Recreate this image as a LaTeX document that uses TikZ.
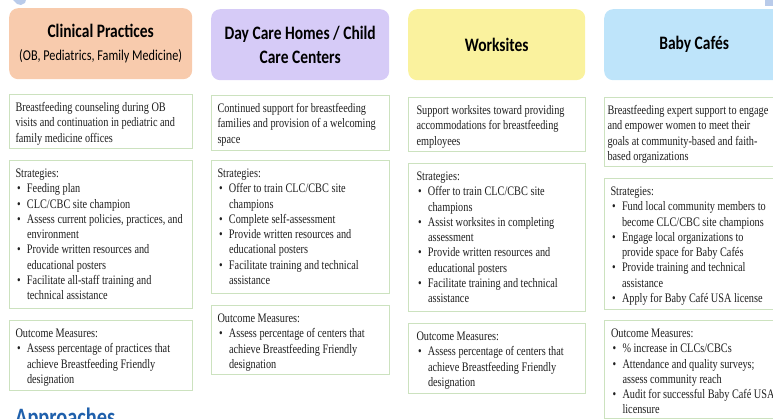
\documentclass[tikz,border=0pt]{standalone}
\usepackage{fontspec}
\setmainfont{Liberation Serif}[FakeStretch=0.79]
\newfontfamily\headfont{Carlito}[FakeStretch=0.815]
\usetikzlibrary{positioning}

\definecolor{cpfill}{HTML}{F8CBAD}
\definecolor{dcfill}{HTML}{D6CBF7}
\definecolor{wsfill}{HTML}{FAF29E}
\definecolor{bcfill}{HTML}{BEE4FA}
\definecolor{panelline}{HTML}{CCE2BF}
\definecolor{approachblue}{HTML}{1F60AC}
\definecolor{tabblue}{HTML}{B9CBEA}

\newcommand{\bul}{\makebox[11.5pt][l]{\hspace{1.5pt}\textbullet}}
\newcommand{\ind}{\hspace*{11.5pt}}
% width, height, left pad, lines
\newcommand{\paneltext}[4]{%
  \parbox[t][#2][t]{#1}{\raggedright\leftskip=#3\relax
    \fontsize{13}{15.3}\selectfont\rule{0pt}{17pt}#4}}

\tikzset{
  head/.style={
    anchor = north west,
    inner sep = 0pt,
    rounded corners = 9pt,
    align = center,
    font = \headfont\fontsize{19}{24}\selectfont\bfseries
  },
  panel/.style={
    anchor = north west,
    inner sep = 0pt,
    draw = panelline,
    line width = 1pt,
    fill = white,
    text = black!88
  }
}

\begin{document}
\begin{tikzpicture}[x=1pt,y=-1pt]
    \useasboundingbox (0,0) rectangle (773,419);
    \clip (0,0) rectangle (773,419);
    \def\xa{9}
    \def\xb{211}
    \def\xc{408}
    \def\xd{604}
    % bits of the slide frame
    \fill[tabblue] (13,0) -- (26,0) -- (25,3) -- (21,5) -- (17,4) -- cycle;
    \fill[tabblue] (765,0) rectangle (773,6);
    % column heads
    \node[head, fill=cpfill, minimum width=183pt, minimum height=71pt] (cp) at (\xa,8)
        {Clinical Practices\\[-1pt] {\headfont\fontsize{15}{18}\selectfont\mdseries (OB, Pediatrics, Family Medicine)}};
    \node[head, fill=dcfill, minimum width=178pt, minimum height=71pt] (dc) at (\xb,9)
        {Day Care Homes / Child\\ Care Centers};
    \node[head, fill=wsfill, minimum width=177pt, minimum height=71pt] (ws) at (\xc,9) {Worksites};
    \node[head, fill=bcfill, minimum width=180pt, minimum height=71pt] (bc) at (\xd,9) {Baby Cafés};
    % clinical practices
    \node[panel] (cp-desc) at (\xa,94) {\paneltext{183pt}{54pt}{6pt}{%
        Breastfeeding counseling during OB\\
        visits and continuation in pediatric and\\
        family medicine offices}};
    \node[panel] (cp-strat) at (\xa,160) {\paneltext{183pt}{148pt}{6pt}{%
        Strategies:\\
        \bul Feeding plan\\
        \bul CLC/CBC site champion\\
        \bul Assess current policies, practices, and\\
        \ind environment\\
        \bul Provide written resources and\\
        \ind educational posters\\
        \bul Facilitate all-staff training and\\
        \ind technical assistance}};
    \node[panel] (cp-out) at (\xa,320) {\paneltext{183pt}{70pt}{6pt}{%
        Outcome Measures:\\
        \bul Assess percentage of practices that\\
        \ind achieve Breastfeeding Friendly\\
        \ind designation}};
    % day care
    \node[panel] (dc-desc) at (\xb,95) {\paneltext{178pt}{55pt}{6pt}{%
        Continued support for breastfeeding\\
        families and provision of a welcoming\\
        space}};
    \node[panel] (dc-strat) at (\xb,160) {\paneltext{178pt}{133pt}{6pt}{%
        Strategies:\\
        \bul Offer to train CLC/CBC site\\
        \ind champions\\
        \bul Complete self-assessment\\
        \bul Provide written resources and\\
        \ind educational posters\\
        \bul Facilitate training and technical\\
        \ind assistance}};
    \node[panel] (dc-out) at (\xb,305) {\paneltext{178pt}{69pt}{6pt}{%
        Outcome Measures:\\
        \bul Assess percentage of centers that\\
        \ind achieve Breastfeeding Friendly\\
        \ind designation}};
    % worksites
    \node[panel] (ws-desc) at (\xc,97) {\paneltext{177pt}{54pt}{8pt}{%
        Support worksites toward providing\\
        accommodations for breastfeeding\\
        employees}};
    \node[panel] (ws-strat) at (\xc,163) {\paneltext{177pt}{148pt}{8pt}{%
        Strategies:\\
        \bul Offer to train CLC/CBC site\\
        \ind champions\\
        \bul Assist worksites in completing\\
        \ind assessment\\
        \bul Provide written resources and\\
        \ind educational posters\\
        \bul Facilitate training and technical\\
        \ind assistance}};
    \node[panel] (ws-out) at (\xc,323) {\paneltext{177pt}{70pt}{8pt}{%
        Outcome Measures:\\
        \bul Assess percentage of centers that\\
        \ind achieve Breastfeeding Friendly\\
        \ind designation}};
    % baby cafes
    \node[panel] (bc-desc) at (\xd,97) {\paneltext{180pt}{69pt}{3pt}{%
        Breastfeeding expert support to engage\\
        and empower women to meet their\\
        goals at community-based and faith-\\
        based organizations}};
    \node[panel] (bc-strat) at (\xd,178) {\paneltext{180pt}{131pt}{6pt}{%
        Strategies:\\
        \bul Fund local community members to\\
        \ind become CLC/CBC site champions\\
        \bul Engage local organizations to\\
        \ind provide space for Baby Cafés\\
        \bul Provide training and technical\\
        \ind assistance\\
        \bul Apply for Baby Café USA license}};
    \node[panel] (bc-out) at (\xd,320) {\paneltext{180pt}{98pt}{6.5pt}{%
        Outcome Measures:\\
        \bul \% increase in CLCs/CBCs\\
        \bul Attendance and quality surveys;\\
        \ind assess community reach\\
        \bul Audit for successful Baby Café USA\\
        \ind licensure}};
    \node[anchor=base west, inner sep=0pt, text=approachblue,
        font=\headfont\fontsize{25}{30}\selectfont\bfseries] (approaches) at (15,425) {Approaches};
\end{tikzpicture}
\end{document}
